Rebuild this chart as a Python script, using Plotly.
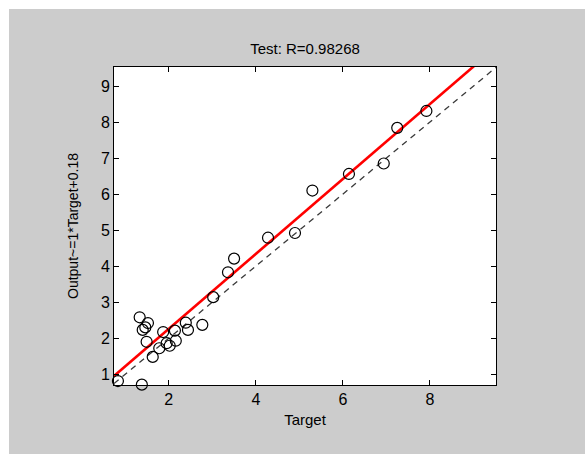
import plotly.graph_objects as go

# Data
target = [0.83, 1.38, 1.33, 1.40, 1.52, 1.46, 1.49, 1.63, 1.78, 1.87, 1.95, 2.02,
          2.14, 2.16, 2.39, 2.44, 2.77, 3.02, 3.36, 3.50, 4.28, 4.90, 5.30, 6.14,
          6.94, 7.25, 7.92]
output = [0.81, 0.71, 2.58, 2.23, 2.42, 2.30, 1.90, 1.48, 1.72, 2.17, 1.86, 1.79,
          2.21, 1.93, 2.43, 2.23, 2.37, 3.14, 3.83, 4.21, 4.79, 4.92, 6.10, 6.56,
          6.85, 7.84, 8.31]
fit_slope = [1.04]
fit_intercept = [0.18]
x_limits = [0.74, 9.52]
y_limits = [0.70, 9.53]
x_ticks = [2, 4, 6, 8]
y_ticks = [1, 2, 3, 4, 5, 6, 7, 8, 9]
title_text = "Test: R=0.98268"
x_title = "Target"
y_title = "Output~=1*Target+0.18"

FONT = "Liberation Sans, Arial, sans-serif"
W, H = 585, 454
L, R, T, B = 114, 89, 67, 69

fit_x = [x_limits[0], x_limits[1]]
fit_y = [fit_intercept[0] + fit_slope[0] * v for v in fit_x]

fig = go.Figure()
fig.add_trace(go.Scatter(x=fit_x, y=fit_x, mode="lines",
                         line=dict(color="#3a3a3a", width=1.3, dash="6px,5px"),
                         showlegend=False, hoverinfo="skip"))
fig.add_trace(go.Scatter(x=fit_x, y=fit_y, mode="lines",
                         line=dict(color="#ff0000", width=2.6),
                         showlegend=False, hoverinfo="skip"))
fig.add_trace(go.Scatter(x=target, y=output, mode="markers",
                         marker=dict(symbol="circle-open", size=11,
                                     color="black", line=dict(width=1.2, color="black")),
                         cliponaxis=False, showlegend=False))

axis_common = dict(showgrid=False, zeroline=False, showline=True, linecolor="black",
                   linewidth=1, mirror="ticks", ticks="inside", ticklen=5,
                   tickcolor="black", tickwidth=1,
                   tickfont=dict(family=FONT, size=16, color="black"))

fig.update_xaxes(range=x_limits, tickvals=x_ticks, ticktext=[str(v) for v in x_ticks],
                 title=dict(text=x_title, font=dict(family=FONT, size=15, color="black"),
                            standoff=7),
                 **axis_common)
fig.update_yaxes(range=y_limits, tickvals=y_ticks, ticktext=[str(v) for v in y_ticks],
                 title=dict(text=y_title, font=dict(family=FONT, size=14, color="black"),
                            standoff=18),
                 **axis_common)

fig.update_layout(
    width=W, height=H,
    margin=dict(l=L, r=R, t=T, b=B, pad=0),
    paper_bgcolor="#cccccc",
    plot_bgcolor="white",
    title=dict(text=title_text, x=(L + (W - L - R) / 2) / W, xanchor="center",
               y=1 - 49 / H, yanchor="middle",
               font=dict(family=FONT, size=15, color="black")),
    shapes=[
        dict(type="rect", xref="paper", yref="paper", x0=-L / (W - L - R) - 0.01,
             x1=(W - L) / (W - L - R) + 0.01, y0=(H - T) / (H - T - B) - 11 / (H - T - B),
             y1=(H - T) / (H - T - B) + 0.02, fillcolor="white", line=dict(width=0),
             layer="below"),
        dict(type="rect", xref="paper", yref="paper", x0=-L / (W - L - R) - 0.01,
             x1=-L / (W - L - R) + 9 / (W - L - R), y0=-B / (H - T - B) - 0.02,
             y1=(H - T) / (H - T - B) + 0.02, fillcolor="white", line=dict(width=0),
             layer="below"),
    ],
)

fig.write_html("out.html")
